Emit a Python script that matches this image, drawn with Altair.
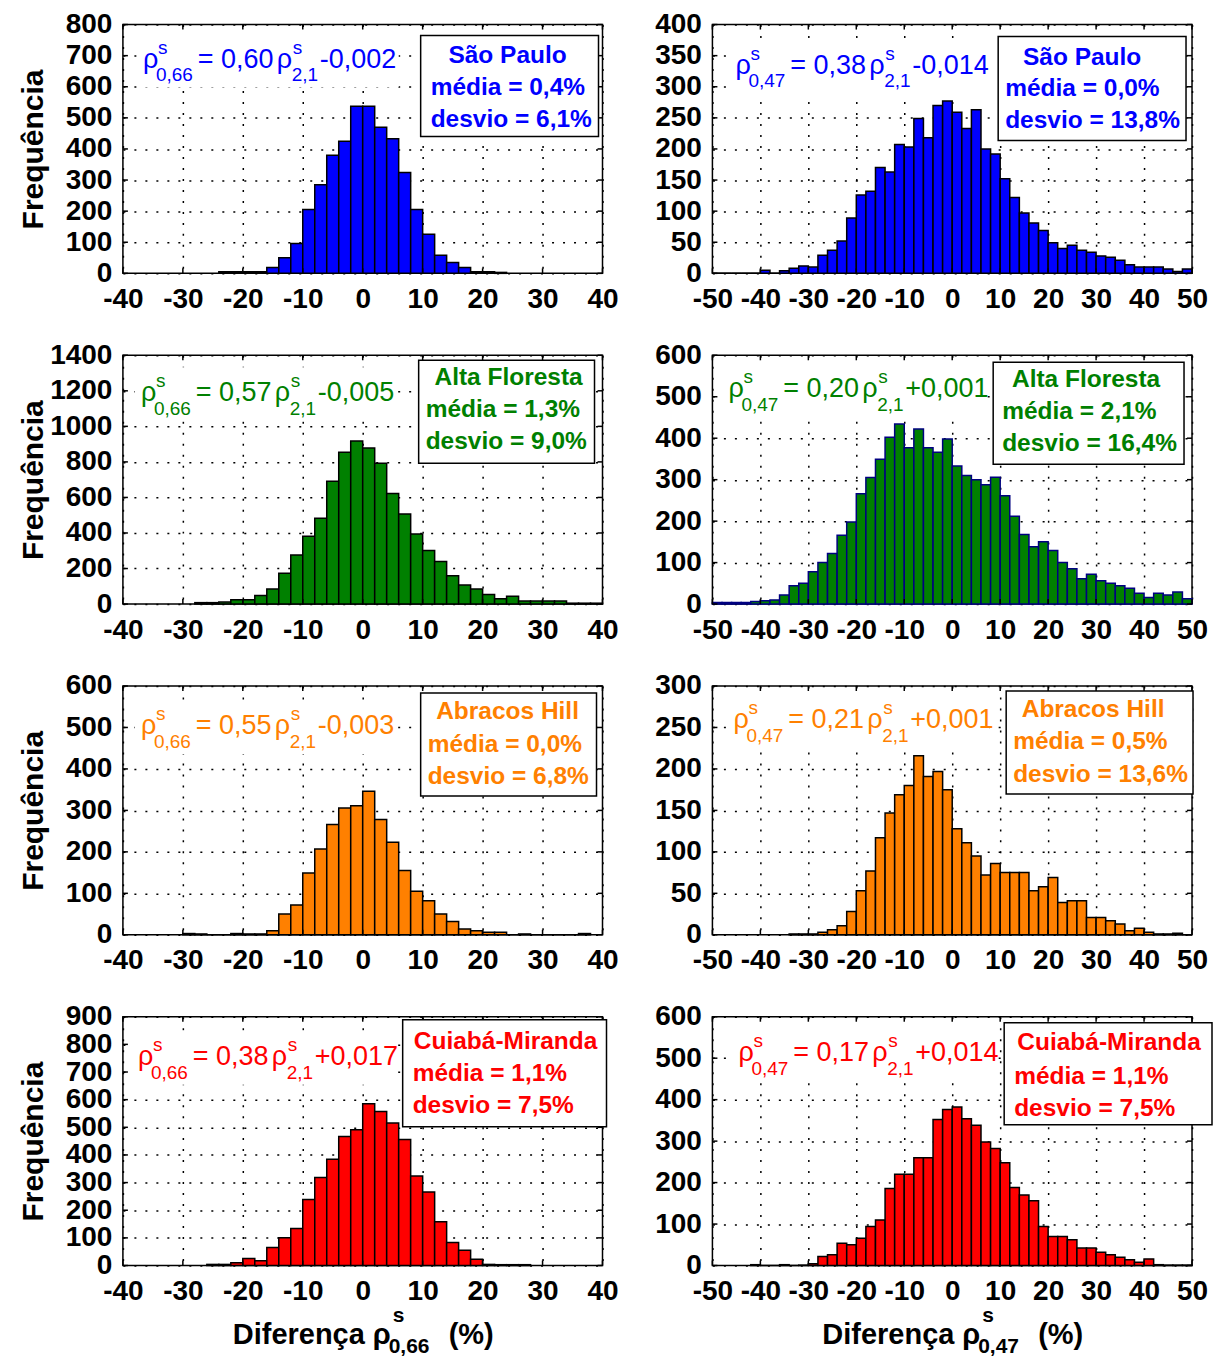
import altair as alt
import pandas as pd

# ---------------- data (bin width = 2 %) ----------------
BIN = 2

sp66_start = -24
sp66_counts = [5, 5, 5, 5, 19, 50, 96, 205, 285, 380, 425, 537,
               537, 470, 433, 324, 205, 126, 58, 35, 19, 5, 5, 3]

sp47_start = -50
sp47_counts = [0, 0, 0, 0, 0, 5, 0, 4, 8, 12, 10, 29, 37, 52, 89, 126, 132, 170, 163, 207, 203, 249, 218, 270, 277,
               259, 233, 263, 200, 192, 152, 122, 97, 81, 69, 49, 40, 45, 37, 34, 28, 26, 21, 14, 10, 10, 10, 7, 3, 7]

af66_start = -28
af66_counts = [8, 8, 11, 24, 24, 48, 85, 174, 276, 381, 483, 691, 854, 918,
               878, 793, 622, 507, 394, 302, 239, 159, 107, 85, 54, 30, 44, 17, 17, 17, 17, 5, 5, 5]

af47_start = -50
af47_counts = [4, 4, 4, 4, 6, 8, 10, 22, 44, 50, 78, 100, 122, 166, 198, 266, 305, 349, 402, 434, 377, 422, 377, 366, 398,
               333, 310, 300, 288, 306, 261, 212, 168, 138, 150, 129, 100, 85, 61, 72, 56, 50, 44, 38, 26, 16, 26, 22, 29, 13]

ah66_start = -30
ah66_counts = [3, 2, 0, 0, 3, 2, 2, 10, 50, 72, 149, 207, 266, 306, 311,
               346, 278, 223, 155, 105, 82, 50, 32, 14, 10, 6, 6, 0, 2, 0, 0, 0, 0, 3]

ah47_start = -34
ah47_counts = [1, 1, 1, 3, 6, 11, 28, 53, 77, 117, 147, 169, 180, 216, 191, 197, 175,
               128, 111, 95, 72, 86, 75, 75, 75, 53, 58, 69, 39, 41, 41, 21, 21, 17, 13, 5, 8, 3, 1, 1, 2, 0]

cm66_start = -26
cm66_counts = [4, 4, 10, 25, 17, 65, 100, 134, 239, 318, 384, 467, 491,
               585, 557, 516, 456, 324, 266, 158, 83, 55, 23, 4, 3, 3, 3]

cm47_start = -42
cm47_counts = [2, 0, 0, 2, 0, 1, 4, 22, 26, 54, 50, 66, 94, 110, 186, 220, 220, 260, 260, 352, 376,
               382, 354, 338, 298, 282, 248, 188, 170, 156, 94, 70, 70, 62, 42, 42, 32, 26, 20, 14, 8, 16, 2, 1, 1, 1]

sites = ["São Paulo", "Alta Floresta", "Abracos Hill", "Cuiabá-Miranda"]
medias66 = ["0,4%", "1,3%", "0,0%", "1,1%"]
desvios66 = ["6,1%", "9,0%", "6,8%", "7,5%"]
medias47 = ["0,0%", "2,1%", "0,5%", "1,1%"]
desvios47 = ["13,8%", "16,4%", "13,6%", "7,5%"]
coefs66 = ["0,60", "0,57", "0,55", "0,38"]
consts66 = ["-0,002", "-0,005", "-0,003", "+0,017"]
coefs47 = ["0,38", "0,20", "0,21", "0,17"]
consts47 = ["-0,014", "+0,001", "+0,001", "+0,014"]

# ---------------- style ----------------
FONT = "Liberation Sans, Arial, sans-serif"
W, H = 480, 249
BLUE, GREEN, ORANGE, RED = "#0000FF", "#008000", "#FF8000", "#FF0000"


def one(text, x, y, size, color, bold=False, align="left", baseline="alphabetic"):
    return alt.Chart(alt.Data(values=[{}])).mark_text(
        text=text, font=FONT, fontSize=size, fontWeight="bold" if bold else "normal",
        color=color, align=align, baseline=baseline
    ).encode(x=alt.value(x), y=alt.value(y))


def rect(x1, x2, y1, y2, fill="white", stroke=None):
    kw = dict(fill=fill, opacity=1)
    if stroke:
        kw.update(stroke=stroke, strokeWidth=1.5)
    return alt.Chart(alt.Data(values=[{}])).mark_rect(**kw).encode(
        x=alt.value(x1), x2=alt.value(x2), y=alt.value(y1), y2=alt.value(y2))


def formula(x0, yb, sub, coef, const, color):
    return [
        rect(x0 - 6, x0 + 256, yb - 34, yb + 20),
        one("ρ", x0, yb, 27, color),
        one("s", x0 + 15, yb - 14, 19, color),
        one(sub, x0 + 13, yb + 14, 19, color),
        one("= " + coef, x0 + 55, yb, 27, color),
        one("ρ", x0 + 134, yb, 27, color),
        one("s", x0 + 150, yb - 14, 19, color),
        one("2,1", x0 + 149, yb + 14, 19, color),
        one(const, x0 + 177, yb, 27, color),
    ]


def infobox(box, name_x, text_x, ys, site, media, desvio, color):
    bx1, bx2, by1, by2 = box
    return [
        rect(bx1, bx2, by1, by2, "white", "black"),
        one(site, name_x, ys[0], 24.5, color, True, "center", "middle"),
        one("média = " + media, text_x, ys[1], 24.5, color, True, "left", "middle"),
        one("desvio = " + desvio, text_x, ys[2], 24.5, color, True, "left", "middle"),
    ]


def xtitle(sub):
    y = H + 79
    return [
        one("Diferença", 110, y, 29, "black", True),
        one("ρ", 250, y, 29, "black", True),
        one("s", 270, y - 22, 21, "black", True),
        one(sub, 266, y + 9, 21, "black", True),
        one("(%)", 326, y, 29, "black", True),
    ]


def panel(start, counts, xdom, ymax, ystep, fill, edge, left, bottom, sub,
          fpos, coef, const, box, name_x, text_x, ys, site, media, desvio):
    n = len(counts)
    df = pd.DataFrame({
        "lo": [start + BIN * i for i in range(n)],
        "hi": [start + BIN * (i + 1) for i in range(n)],
        "n": counts,
        "z": [0] * n,
    })
    xvals = list(range(xdom[0], xdom[1] + 1, 10))
    yvals = list(range(0, ymax + 1, ystep))
    xsc = alt.Scale(domain=list(xdom), nice=False, zero=False)
    ysc = alt.Scale(domain=[0, ymax], nice=False, zero=True)
    common = dict(grid=True, gridDash=[2, 9], gridColor="black", gridWidth=1.5, gridOpacity=1,
                  domain=False, ticks=False, tickSize=0, labelFont=FONT, labelFontSize=28,
                  labelFontWeight="bold", labelColor="black", labelOverlap=False, labelFlush=False,
                  labelExpr="'' + datum.value")
    xax = alt.Axis(values=xvals, labelPadding=12, title=None, **common)
    yk = dict(values=yvals, labelPadding=11, **common)
    if left:
        yk.update(title="Frequência", titleFont=FONT, titleFontSize=30, titleFontWeight="bold",
                  titleColor="black", titlePadding=10, minExtent=64, maxExtent=64)
    else:
        yk.update(title=None)
    yax = alt.Axis(**yk)
    X = alt.X("lo:Q", scale=xsc, axis=xax)
    Y = alt.Y("n:Q", scale=ysc, axis=yax)

    bars = alt.Chart(df).mark_bar(fill=fill, stroke=edge, strokeWidth=1.5, fillOpacity=1).encode(
        x=X, x2="hi:Q", y=Y, y2="z:Q",
    )
    xt = pd.DataFrame({"lo": xvals})
    yt = pd.DataFrame({"n": yvals})
    ticks = [
        alt.Chart(xt).mark_rule(color="black", strokeWidth=1.5).encode(x=X, y=alt.value(0), y2=alt.value(5)),
        alt.Chart(xt).mark_rule(color="black", strokeWidth=1.5).encode(x=X, y=alt.value(H - 5), y2=alt.value(H)),
        alt.Chart(yt).mark_rule(color="black", strokeWidth=1.5).encode(y=Y, x=alt.value(0), x2=alt.value(5)),
        alt.Chart(yt).mark_rule(color="black", strokeWidth=1.5).encode(y=Y, x=alt.value(W - 5), x2=alt.value(W)),
    ]
    layers = [bars] + ticks + formula(fpos[0], fpos[1], sub, coef, const, fill) \
        + infobox(box, name_x, text_x, ys, site, media, desvio, fill)
    if bottom:
        layers += xtitle(sub)
    return alt.layer(*layers).properties(width=W, height=H)


p1 = panel(sp66_start, sp66_counts, (-40, 40), 800, 100, BLUE, "black", True, False, "0,66",
           (20, 43), coefs66[0], consts66[0], (298, 476, 11, 112), 385, 308, (31, 64, 96),
           sites[0], medias66[0], desvios66[0])
p2 = panel(sp47_start, sp47_counts, (-50, 50), 400, 50, BLUE, "black", False, False, "0,47",
           (23, 49), coefs47[0], consts47[0], (286, 474, 12, 116), 370, 293, (33, 65, 97),
           sites[0], medias47[0], desvios47[0])
p3 = panel(af66_start, af66_counts, (-40, 40), 1400, 200, GREEN, "black", True, False, "0,66",
           (18, 46), coefs66[1], consts66[1], (296, 472, 5, 108), 386, 303, (23, 55, 87),
           sites[1], medias66[1], desvios66[1])
p4 = panel(af47_start, af47_counts, (-50, 50), 600, 100, GREEN, "#000080", False, False, "0,47",
           (16, 42), coefs47[1], consts47[1], (281, 472, 7, 109), 374, 290, (25, 57, 89),
           sites[1], medias47[1], desvios47[1])
p5 = panel(ah66_start, ah66_counts, (-40, 40), 600, 100, ORANGE, "black", True, False, "0,66",
           (18, 48), coefs66[2], consts66[2], (298, 474, 7, 110), 385, 305, (26, 59, 91),
           sites[2], medias66[2], desvios66[2])
p6 = panel(ah47_start, ah47_counts, (-50, 50), 300, 50, ORANGE, "black", False, False, "0,47",
           (21, 42), coefs47[2], consts47[2], (294, 481, 5, 108), 381, 301, (24, 56, 89),
           sites[2], medias47[2], desvios47[2])
p7 = panel(cm66_start, cm66_counts, (-40, 40), 900, 100, RED, "black", True, True, "0,66",
           (15, 48), coefs66[3], consts66[3], (280, 484, 3, 110), 383, 290, (25, 57, 89),
           sites[3], medias66[3], desvios66[3])
p8 = panel(cm47_start, cm47_counts, (-50, 50), 600, 100, RED, "black", False, True, "0,47",
           (26, 44), coefs47[3], consts47[3], (292, 500, 6, 108), 397, 302, (26, 60, 92),
           sites[3], medias47[3], desvios47[3])

chart = alt.concat(
    p1, p2, p3, p4, p5, p6, p7, p8,
    columns=2, spacing={"row": 82, "column": 110}, bounds="flush"
).properties(
    padding={"left": 10, "top": 1, "right": 0, "bottom": 0}
).configure_view(stroke="black", strokeWidth=1.5)

chart.save("out.html", embed_options={"renderer": "svg", "actions": False})
